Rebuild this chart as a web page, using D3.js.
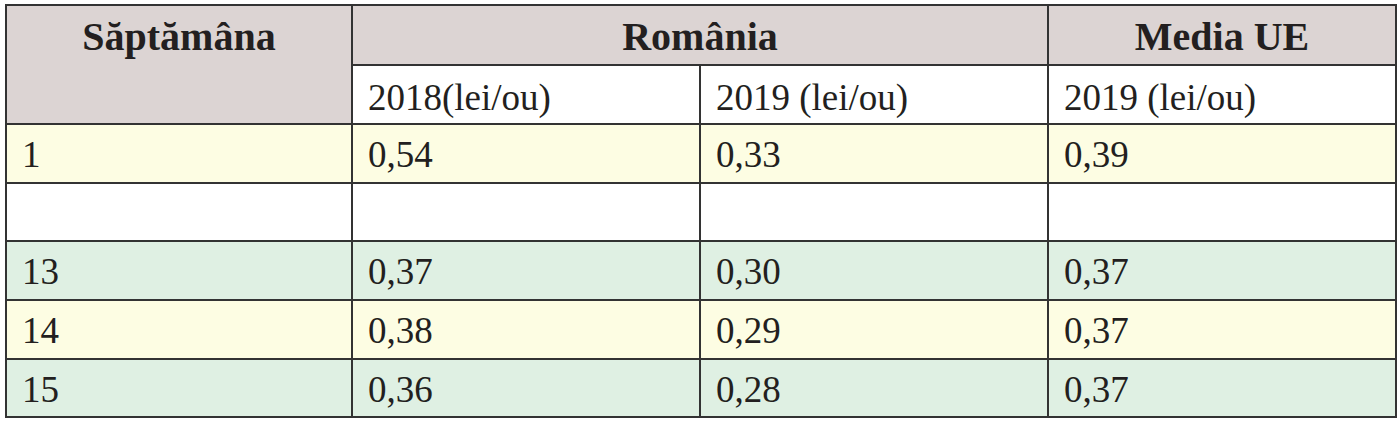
<!DOCTYPE html>
<html><head><meta charset="utf-8">
<script src="https://cdn.jsdelivr.net/npm/d3@7"></script>
<style>body{margin:0;background:#fff} text{font-family:"Liberation Serif","DejaVu Serif","Times New Roman",Times,serif}</style>
</head><body><svg id="c" width="1400" height="423"></svg>
<script>
const weeks = ["1", "", "13", "14", "15"];
const ro2018 = ["0,54", "", "0,37", "0,38", "0,36"];
const ro2019 = ["0,33", "", "0,30", "0,29", "0,28"];
const eu2019 = ["0,39", "", "0,37", "0,37", "0,37"];
const subHeaders = ["2018(lei/ou)", "2019 (lei/ou)", "2019 (lei/ou)"];
const rowColors = ["#fdfde3", "#ffffff", "#dff0e3", "#fdfde3", "#dff0e3"];

const svg = d3.select("#c");
const colEdges = [6, 352, 700, 1048, 1396];
const rowEdges = [5, 65, 124, 183, 241, 300, 359, 417];
const hdr = "#dcd4d3";

function rect(x0, y0, x1, y1, fill) {
  svg.append("rect").attr("x", x0).attr("y", y0).attr("width", x1 - x0).attr("height", y1 - y0)
    .attr("fill", fill).attr("stroke", "#333").attr("stroke-width", 2);
}
function text(x, y, t, bold, anchor) {
  svg.append("text").attr("x", x).attr("y", y).text(t)
    .attr("font-size", bold ? 40 : 37)
    .attr("font-weight", bold ? "bold" : "normal").attr("fill", "#231f20")
    .attr("text-anchor", anchor || "start");
}
rect(colEdges[0], rowEdges[0], colEdges[1], rowEdges[2], hdr);
rect(colEdges[1], rowEdges[0], colEdges[3], rowEdges[1], hdr);
rect(colEdges[3], rowEdges[0], colEdges[4], rowEdges[1], hdr);
text((colEdges[0] + colEdges[1]) / 2, 50, "Săptămâna", true, "middle");
text((colEdges[1] + colEdges[3]) / 2, 50, "România", true, "middle");
text((colEdges[3] + colEdges[4]) / 2, 50, "Media UE", true, "middle");
subHeaders.forEach((s, i) => {
  rect(colEdges[i + 1], rowEdges[1], colEdges[i + 2], rowEdges[2], "#fff");
  text(colEdges[i + 1] + 16, 110, s, false);
});
const cols = [weeks, ro2018, ro2019, eu2019];
weeks.forEach((w, r) => {
  const y0 = rowEdges[r + 2], y1 = rowEdges[r + 3];
  cols.forEach((arr, c) => {
    rect(colEdges[c], y0, colEdges[c + 1], y1, rowColors[r]);
    text(colEdges[c] + 16, y0 + 43, arr[r], false);
  });
});
</script></body></html>
